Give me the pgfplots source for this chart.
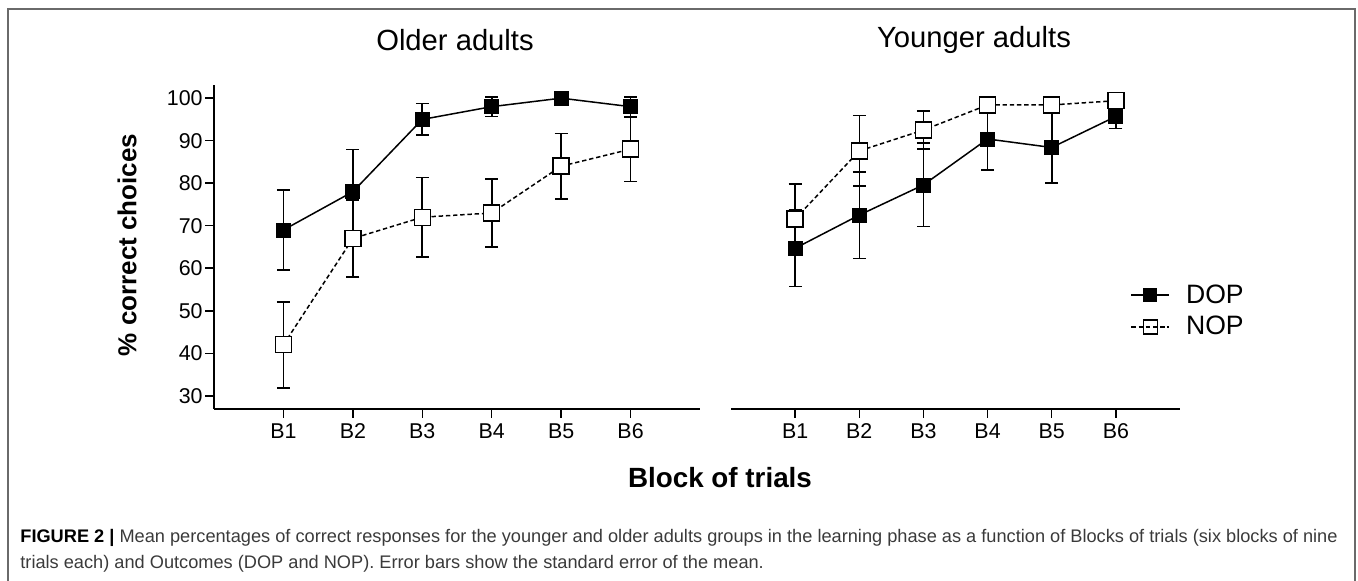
\documentclass[border=0pt]{standalone}
\usepackage{fontspec}
\setmainfont{Liberation Sans}
\usepackage{pgfplots}
\pgfplotsset{compat=1.18}
\usepackage{pgfplotstable}

\pgfplotstableread{
x dop de nop ne
1 69.0 9.4 42.0 10.1
2 78.0 9.9 67.0 9.1
3 95.0 3.7 72.0 9.3
4 98.0 2.3 73.0 8.0
5 100.0 0.0 84.0 7.7
6 98.0 2.3 88.0 7.6
}\older

\pgfplotstableread{
x dop de nop ne
1 64.7 9.0 71.6 8.2
2 72.5 10.2 87.6 8.3
3 79.6 9.8 92.5 4.5
4 90.4 7.3 98.4 1.5
5 88.4 8.4 98.4 1.5
6 95.7 2.8 99.4 1.0
}\younger

\definecolor{captxt}{HTML}{3A3A3A}
\definecolor{framec}{HTML}{6A6A6A}

\begin{document}
\begin{tikzpicture}[x=1pt,y=1pt]
\useasboundingbox (0,0) rectangle (679,290.5);
\draw[framec, line width=0.6pt] (4,-5) rectangle (677.5,286);

\pgfplotsset{
  panel/.style={
    scale only axis, height=162pt,
    xmin=0, xmax=7, ymin=26.9, ymax=103.1,
    xtick={1,2,3,4,5,6}, xticklabels={B1,B2,B3,B4,B5,B6},
    tick align=outside, major tick length=4.5pt,
    axis line style={-, line width=0.75pt, black},
    tick style={line width=0.75pt, black},
    ticklabel style={font=\fontsize{10.7}{12}\selectfont},
    xticklabel style={text height=1.5ex, text depth=0pt, inner ysep=2pt},
    /pgf/number format/assume math mode=true,
    clip=false,
  },
  ebar/.style={only marks, mark=none, black, line width=0.8pt,
    error bars/y dir=both, error bars/y explicit,
    error bars/error bar style={line width=0.8pt, black},
    error bars/error mark options={rotate=90, mark size=3.25pt, line width=0.8pt, black}},
  nopm/.style={only marks, mark=square*, mark size=4pt,
    mark options={fill=white, draw=black, line width=0.7pt, solid}},
  nopl/.style={black, line width=0.75pt, dash pattern=on 2.2pt off 1.4pt, mark=none},
  dopm/.style={only marks, mark=square*, mark size=3.5pt,
    mark options={fill=black, draw=black, solid}},
  dopl/.style={black, line width=0.75pt, mark=none},
}

% Older adults
\begin{axis}[panel, at={(107pt,86pt)}, anchor=south west, width=243pt,
  axis x line*=bottom, axis y line*=left,
  ytick={30,40,50,60,70,80,90,100},
  yticklabel style={inner xsep=1pt},
]
\addplot[forget plot, ebar] table[x=x, y=nop, y error=ne]{\older};
\addplot[forget plot, nopm] table[x=x, y=nop]{\older};
\addplot[forget plot, nopl] table[x=x, y=nop]{\older};
\addplot[forget plot, ebar] table[x=x, y=dop, y error=de]{\older};
\addplot[forget plot, dopm] table[x=x, y=dop]{\older};
\addplot[forget plot, dopl] table[x=x, y=dop]{\older};
\end{axis}

% Younger adults
\begin{axis}[panel, at={(365.5pt,86pt)}, anchor=south west, width=224.5pt,
  axis x line*=bottom, axis y line=none,
  legend style={draw=none, fill=none, at={(0.889,0.398)}, anchor=north west,
    font=\fontsize{13.3}{15}\selectfont, row sep=1pt, inner sep=0pt, column sep=6pt},
  legend cell align=left,
  legend image code/.code={\draw[mark repeat=2,mark phase=2] plot coordinates {(0pt,0pt)(9.5pt,0pt)(19pt,0pt)};},
]
\addplot[forget plot, ebar] table[x=x, y=nop, y error=ne]{\younger};
\addplot[forget plot, nopm] table[x=x, y=nop]{\younger};
\addplot[forget plot, nopl] table[x=x, y=nop]{\younger};
\addplot[forget plot, ebar] table[x=x, y=dop, y error=de]{\younger};
\addplot[forget plot, dopm] table[x=x, y=dop]{\younger};
\addplot[forget plot, dopl] table[x=x, y=dop]{\younger};
\addlegendimage{black, line width=0.75pt, mark=square*, mark size=3.2pt}
\addlegendentry{DOP}
\addlegendimage{black, line width=0.75pt, dash pattern=on 2.2pt off 1.4pt, mark=square, mark size=3.5pt, mark options={solid}}
\addlegendentry{NOP}
\end{axis}

% titles and labels
\node[font=\fontsize{14.6}{17}\selectfont] at (227.5,270.5) {Older adults};
\node[font=\fontsize{14.6}{17}\selectfont] at (487,270.5) {Younger adults};
\node[font=\bfseries\fontsize{13}{15}\selectfont, rotate=90] at (63.5,168) {\% correct choices};
\node[font=\bfseries\fontsize{13.9}{16}\selectfont] at (360,51.5) {Block of trials};

% caption
\node[anchor=base west, inner sep=0pt, font=\fontsize{9.1}{11}\selectfont, text=captxt] at (10,19)
  {{\color{black}\bfseries FIGURE 2 |} Mean percentages of correct responses for the younger and older adults groups in the learning phase as a function of Blocks of trials (six blocks of nine};
\node[anchor=base west, inner sep=0pt, font=\fontsize{9.1}{11}\selectfont, text=captxt] at (10,6)
  {trials each) and Outcomes (DOP and NOP). Error bars show the standard error of the mean.};
\end{tikzpicture}
\end{document}
